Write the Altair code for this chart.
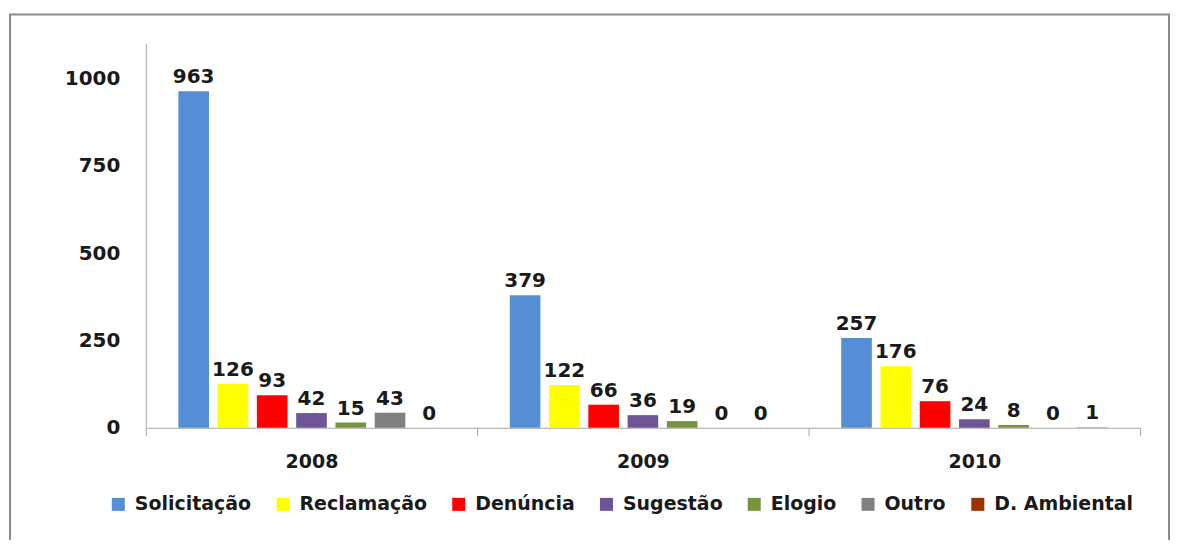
import altair as alt
import pandas as pd

years = ["2008", "2009", "2010"]
categories = ["Solicitação", "Reclamação", "Denúncia", "Sugestão", "Elogio", "Outro", "D. Ambiental"]
solicitacao = [963, 379, 257]
reclamacao = [126, 122, 176]
denuncia = [93, 66, 76]
sugestao = [42, 36, 24]
elogio = [15, 19, 8]
outro = [43, 0, 0]
d_ambiental = [0, 0, 1]
colors = ["#558ED5", "#FFFF00", "#FF0000", "#6F5597", "#77933C", "#808080", "#993300"]

series = [solicitacao, reclamacao, denuncia, sugestao, elogio, outro, d_ambiental]
rows = []
for cat, vals in zip(categories, series):
    for yr, v in zip(years, vals):
        rows.append({"year": yr, "category": cat, "value": v})
df = pd.DataFrame(rows)

FONT = "DejaVu Sans"

x_enc = alt.X("year:N", sort=years,
              scale=alt.Scale(paddingInner=0, paddingOuter=0),
              axis=alt.Axis(title=None, labelAngle=0, tickBand="extent", tickSize=8,
                            tickColor="#a6a6a6", domainColor="#a6a6a6", labelPadding=17,
                            labelFont=FONT, labelFontWeight="bold", labelFontSize=19,
                            labelColor="#1a1a1a"))
xo_enc = alt.XOffset("category:N", sort=categories,
                     scale=alt.Scale(paddingInner=0.22, paddingOuter=0.83))
y_enc = alt.Y("value:Q",
              scale=alt.Scale(domain=[0, 1100], nice=False),
              axis=alt.Axis(title=None, values=[0, 250, 500, 750, 1000], format="d",
                            grid=False, ticks=False,
                            domainColor="#a6a6a6", labelPadding=26,
                            labelFont=FONT, labelFontWeight="bold", labelFontSize=20,
                            labelColor="#1a1a1a"))

bars = alt.Chart(df).mark_bar().encode(
    x=x_enc, xOffset=xo_enc, y=y_enc,
    color=alt.Color("category:N", sort=categories,
                    scale=alt.Scale(domain=categories, range=colors),
                    legend=alt.Legend(title=None, orient="none", legendX=-37, legendY=452,
                                      direction="horizontal", symbolType="square",
                                      symbolSize=170, symbolStrokeWidth=0,
                                      labelFont=FONT, labelFontWeight="bold", labelFontSize=19,
                                      labelColor="#1a1a1a", columnPadding=22, labelOffset=7)),
)

labels = alt.Chart(df).mark_text(dy=-4, baseline="bottom", font=FONT, fontWeight="bold",
                                 fontSize=20, color="#1a1a1a").encode(
    x=x_enc, xOffset=xo_enc, y=y_enc, text="value:Q"
)

border = alt.Chart(pd.DataFrame({"a": [0]})).mark_rect(
    fill="transparent", stroke="#8c8c8c", strokeWidth=2
).encode(x=alt.value(-136), x2=alt.value(1025), y=alt.value(-29), y2=alt.value(600))

chart = alt.layer(border, bars, labels).properties(
    width=996, height=385,
    autosize=alt.AutoSizeParams(type="none"),
    padding={"left": 138, "top": 35, "right": 30, "bottom": 112},
).configure_view(stroke=None)

chart.save("out.html", embed_options={"renderer": "svg", "actions": False})
